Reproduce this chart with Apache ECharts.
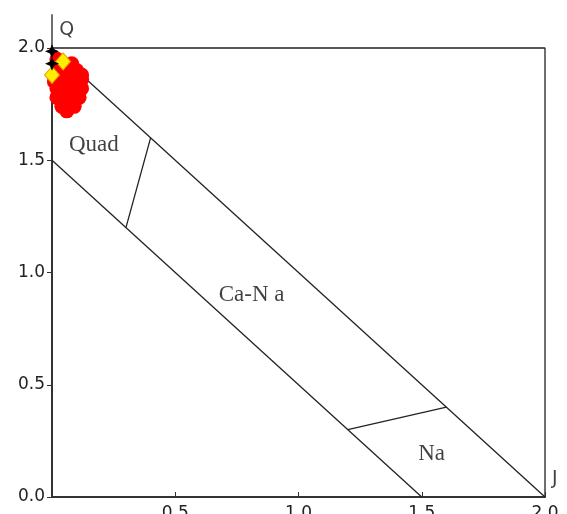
<!DOCTYPE html>
<html>
<head>
<meta charset="utf-8">
<script src="https://cdn.jsdelivr.net/npm/echarts@6/dist/echarts.min.js"></script>
<style>
  html, body { margin: 0; padding: 0; background: #fff; }
  #main { width: 567px; height: 514px; }
</style>
</head>
<body>
<div id="main"></div>
<script>
// tick labels
var xTicks = [0.5, 1.0, 1.5, 2.0];
var yTicks = [0.0, 0.5, 1.0, 1.5, 2.0];

// field boundaries (J, Q)
var upperLine = [[0, 2], [2, 0]];
var lowerLine = [[0, 1.5], [1.5, 0]];
var quadBound = [[0.3, 1.2], [0.4, 1.6]];
var naBound = [[1.2, 0.3], [1.6, 0.4]];
var frameLine = [[0, 2.15], [0, 2], [2, 2], [2, 0]];

// field names
var fieldNames = ['Quad', 'Ca-N a', 'Na'];
var fieldPos = [[0.17, 1.57], [0.81, 0.9], [1.54, 0.19]];
var cornerNames = ['Q', 'J'];
var cornerPos = [[0.06, 2.08], [2.04, 0.08]];

// analyses
var redPts = [
  [0.04, 1.92], [0.08, 1.93], [0.1, 1.9], [0.12, 1.86], [0.12, 1.82],
  [0.11, 1.78], [0.09, 1.74], [0.06, 1.72], [0.04, 1.74], [0.02, 1.78],
  [0.02, 1.82], [0.03, 1.86], [0.05, 1.88], [0.07, 1.85], [0.09, 1.82],
  [0.07, 1.79], [0.05, 1.8], [0.08, 1.76], [0.06, 1.76], [0.1, 1.86],
  [0.03, 1.9], [0.06, 1.9], [0.01, 1.85], [0.12, 1.88], [0.02, 1.95]
];
var yellowPts = [[0.045, 1.94], [0.0, 1.88]];
var blackPts = [[0.0, 1.985], [0.0, 1.93]];

function seg(d) {
  return {
    type: 'line', data: d, symbol: 'none', clip: false, silent: true,
    lineStyle: { color: '#222', width: 1.3 }, z: 3
  };
}

function labels(names, pos, size, font) {
  return {
    type: 'scatter', symbolSize: 0, clip: false, silent: true,
    data: names.map(function (n, i) { return { name: n, value: pos[i] }; }),
    label: {
      show: true, position: 'inside', formatter: '{b}',
      color: '#111', fontSize: size, fontFamily: font
    }
  };
}

var myChart = echarts.init(document.getElementById('main'));

option = {
  animation: false,
  grid: {
    left: 52, right: 22, top: 48, bottom: 17,
    containLabel: false, outerBoundsMode: 'none'
  },
  xAxis: {
    type: 'value', min: 0, max: 2, interval: 0.5,
    axisLine: { lineStyle: { color: '#333', width: 2 } },
    axisTick: { inside: true, length: 5, lineStyle: { color: '#333' } },
    splitLine: { show: false },
    axisLabel: {
      showMinLabel: false, margin: 8, color: '#222', fontSize: 17,
      fontFamily: 'DejaVu Sans',
      formatter: function (v) { return v.toFixed(1); }
    }
  },
  yAxis: {
    type: 'value', min: 0, max: 2, interval: 0.5,
    axisLine: { lineStyle: { color: '#333', width: 2 } },
    axisTick: { length: 5, lineStyle: { color: '#333' } },
    splitLine: { show: false },
    axisLabel: {
      margin: 7, color: '#222', fontSize: 17, fontFamily: 'DejaVu Sans',
      formatter: function (v) { return v.toFixed(1); }
    }
  },
  series: [
    seg(frameLine),
    seg(upperLine),
    seg(lowerLine),
    seg(quadBound),
    seg(naBound),
    labels(fieldNames, fieldPos, 23, 'Liberation Serif'),
    labels(cornerNames, cornerPos, 19, 'DejaVu Sans'),
    {
      type: 'scatter', data: redPts, symbol: 'circle', symbolSize: 15,
      clip: false, itemStyle: { color: '#ff0000', opacity: 1 }, z: 4
    },
    {
      type: 'scatter', data: yellowPts, symbol: 'diamond', symbolSize: [15, 17],
      clip: false, itemStyle: { color: '#ffee00', opacity: 1, borderColor: '#e0a000', borderWidth: 1 },
      z: 5
    },
    {
      type: 'scatter', data: blackPts,
      symbol: 'path://M0,-10L3,-3L10,0L3,3L0,10L-3,3L-10,0L-3,-3Z',
      symbolSize: 14, clip: false, itemStyle: { color: '#000', opacity: 1 }, z: 6
    }
  ]
};

myChart.setOption(option);
</script>
</body>
</html>
